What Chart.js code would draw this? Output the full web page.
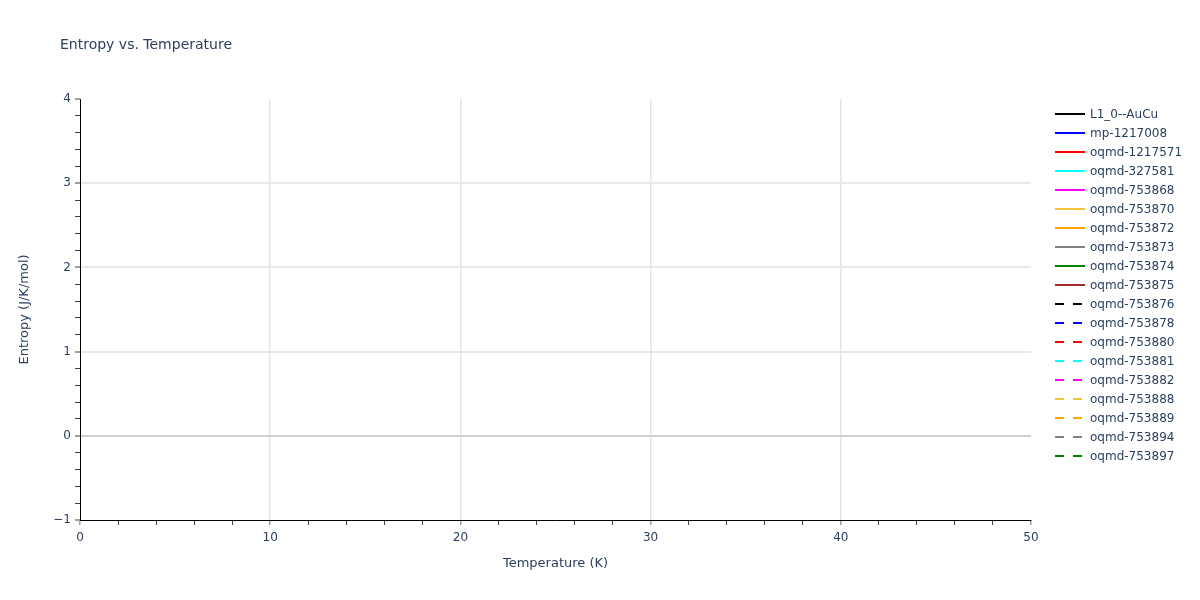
<!DOCTYPE html>
<html>
<head>
<meta charset="utf-8">
<script src="https://cdn.jsdelivr.net/npm/chart.js@4.4.1/dist/chart.umd.min.js"></script>
<style>
  html, body { margin: 0; padding: 0; background: #fff; }
  #wrap { width: 1200px; height: 600px; }
</style>
</head>
<body>
<div id="wrap"><canvas id="entropyChart" width="1200" height="600"></canvas></div>
<script>
// series shown in the legend (no points fall inside the visible range)
const seriesNames = [
    "L1_0--AuCu", "mp-1217008", "oqmd-1217571", "oqmd-327581", "oqmd-753868",
    "oqmd-753870", "oqmd-753872", "oqmd-753873", "oqmd-753874", "oqmd-753875",
    "oqmd-753876", "oqmd-753878", "oqmd-753880", "oqmd-753881", "oqmd-753882",
    "oqmd-753888", "oqmd-753889", "oqmd-753894", "oqmd-753897"
]
const seriesColors = [
    "#000000", "#0000ff", "#ff0000", "#00ffff", "#ff00ff",
    "#f1c232", "#ffa500", "#808080", "#008000", "#a52a2a",
    "#000000", "#0000ff", "#ff0000", "#00ffff", "#ff00ff",
    "#f1c232", "#ffa500", "#808080", "#008000"
]
const seriesDashed = [
    false, false, false, false, false, false, false, false, false, false,
    true, true, true, true, true, true, true, true, true
]
const seriesData = seriesNames.map(() => [])

const xTicks = [0, 10, 20, 30, 40, 50]
const yTicks = [-1, 0, 1, 2, 3, 4]

const textColor = "#2a3f5f"
const fontFamily = "'DejaVu Sans', Verdana, sans-serif"

function isMajor(v, list) {
    return list.some(t => Math.abs(t - v) < 1e-6)
}

const legendPlugin = {
    id: "sideLegend",
    afterDraw(chart) {
        const ctx = chart.ctx
        ctx.save()

        // title
        ctx.fillStyle = textColor
        ctx.font = "14px " + fontFamily
        ctx.textBaseline = "middle"
        ctx.textAlign = "left"
        ctx.fillText("Entropy vs. Temperature", 60, 45)

        // legend
        ctx.font = "12px " + fontFamily
        chart.data.datasets.forEach((ds, i) => {
            const y = 114 + i * 19
            ctx.strokeStyle = ds.borderColor
            ctx.lineWidth = 2
            ctx.setLineDash(ds.borderDash || [])
            ctx.beginPath()
            ctx.moveTo(1055, y)
            ctx.lineTo(1085, y)
            ctx.stroke()
            ctx.setLineDash([])
            ctx.fillStyle = textColor
            ctx.fillText(ds.label, 1090, y + 1)
        })
        ctx.restore()
    }
}

const ctx = document.getElementById("entropyChart").getContext("2d")

const chart = new Chart(ctx, {
    type: "line",
    data: {
        datasets: seriesNames.map((name, i) => ({
            label: name,
            data: seriesData[i],
            borderColor: seriesColors[i],
            backgroundColor: seriesColors[i],
            borderWidth: 2,
            borderDash: seriesDashed[i] ? [9, 9] : [],
            pointRadius: 0,
            fill: false
        }))
    },
    options: {
        responsive: false,
        animation: false,
        layout: {
            padding: { left: 0, top: 99, right: 169, bottom: 0 }
        },
        plugins: {
            legend: { display: false },
            title: { display: false },
            tooltip: { enabled: false }
        },
        scales: {
            x: {
                type: "linear",
                min: 0,
                max: 50,
                afterFit(scale) { scale.height = 80 },
                ticks: {
                    stepSize: 2,
                    autoSkip: false,
                    maxRotation: 0,
                    padding: 6,
                    color: textColor,
                    font: { family: fontFamily, size: 12 },
                    callback: v => isMajor(v, xTicks) ? String(v) : ""
                },
                grid: {
                    drawTicks: true,
                    tickLength: 5,
                    lineWidth: c => {
                        const v = c.tick ? c.tick.value : 0
                        return isMajor(v, xTicks) ? 1.5 : 1
                    },
                    color: c => {
                        const v = c.tick ? c.tick.value : 0
                        return isMajor(v, xTicks) && v > 0 && v < 50 ? "#e4e4e4" : "rgba(0,0,0,0)"
                    },
                    tickColor: c => {
                        const v = c.tick ? c.tick.value : 0
                        return isMajor(v, xTicks) ? "#a0a0a0" : "#444444"
                    }
                },
                border: { display: true, color: "#000000", width: 1 },
                title: {
                    display: true,
                    text: "Temperature (K)",
                    color: textColor,
                    font: { family: fontFamily, size: 13 },
                    padding: { top: 0, bottom: 29 }
                }
            },
            y: {
                type: "linear",
                min: -1,
                max: 4,
                afterFit(scale) { scale.width = 80 },
                ticks: {
                    stepSize: 0.2,
                    autoSkip: false,
                    padding: 4,
                    color: textColor,
                    font: { family: fontFamily, size: 12 },
                    callback: v => {
                        if (!isMajor(v, yTicks)) return ""
                        const r = Math.round(v)
                        return r < 0 ? "\u2212" + Math.abs(r) : String(r)
                    }
                },
                grid: {
                    drawTicks: true,
                    tickLength: 5,
                    lineWidth: c => {
                        const v = c.tick ? c.tick.value : 0
                        return isMajor(v, yTicks) ? 2 : 1
                    },
                    color: c => {
                        const v = c.tick ? c.tick.value : 0
                        if (Math.abs(v) < 1e-6) return "#d0d0d0"
                        return isMajor(v, yTicks) && v > -1 && v < 4 ? "#e8e8e8" : "rgba(0,0,0,0)"
                    },
                    tickColor: c => {
                        const v = c.tick ? c.tick.value : 0
                        return isMajor(v, yTicks) ? "#a0a0a0" : "#444444"
                    }
                },
                border: { display: true, color: "#000000", width: 1 },
                title: {
                    display: true,
                    text: "Entropy (J/K/mol)",
                    color: textColor,
                    font: { family: fontFamily, size: 13 },
                    padding: { top: 17, bottom: 0 }
                }
            }
        }
    },
    plugins: [legendPlugin]
})
</script>
</body>
</html>
